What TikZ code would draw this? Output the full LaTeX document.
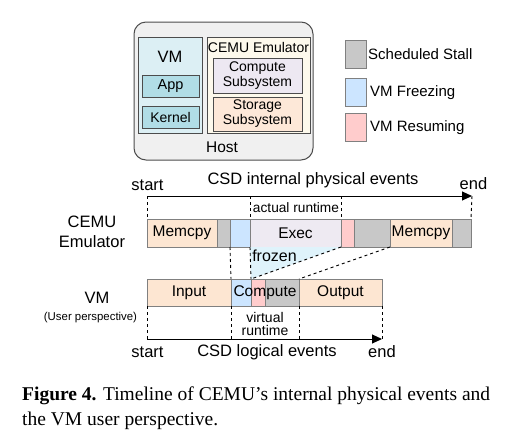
\documentclass[tikz,border=0pt]{standalone}
\usepackage{fontspec}
\setmainfont{Liberation Sans}
\newfontfamily\capfont{Liberation Serif}
\usetikzlibrary{arrows.meta,positioning,calc}
\definecolor{peach}{HTML}{FDE6D2}
\definecolor{stallgray}{HTML}{C8C8C8}
\definecolor{freezeblue}{HTML}{CCE5FF}
\definecolor{resumepink}{HTML}{FFCCCC}
\definecolor{execlav}{HTML}{EEEAF2}
\definecolor{frozencyan}{HTML}{DFF3FB}
\definecolor{hostgray}{HTML}{F0F0F0}
\definecolor{vmcyan}{HTML}{DCEFF4}
\definecolor{appcyan}{HTML}{B1DDE6}
\definecolor{emucream}{HTML}{FDF9EC}
\definecolor{complav}{HTML}{EDE8F2}
\definecolor{storpeach}{HTML}{FDE8D8}
\definecolor{segline}{HTML}{808080}
\tikzset{
	seg/.style={draw=segline, line width=0.9pt, minimum height=28pt, inner sep=0pt, outer sep=0pt, font=\fontsize{15.5}{18}\selectfont},
	hostbox/.style={draw=black!70, line width=1pt, rounded corners=12pt, fill=hostgray, inner sep=0pt},
	inbox/.style={draw=black!70, line width=0.9pt, align=center, inner sep=0pt, outer sep=0pt, font=\fontsize{14}{15}\selectfont},
	keybox/.style={draw=segline, line width=1pt, minimum width=21pt, minimum height=28pt, inner sep=0pt},
	keytext/.style={anchor=west, inner sep=0pt, font=\fontsize{15}{18}\selectfont},
	guide/.style={dash pattern=on 3pt off 3pt, line width=0.9pt},
	timeaxis/.style={-{Triangle[length=10pt,width=9pt]}, line width=1pt},
	bigtext/.style={inner sep=0pt, font=\fontsize{16.5}{20}\selectfont},
	smalltext/.style={inner sep=0pt, align=center, font=\fontsize{14}{13}\selectfont}
}
\begin{document}
\begin{tikzpicture}[x=1pt, y=-1pt]
	\useasboundingbox (0,0) rectangle (531,445);
	% host machine
	\node[hostbox, minimum width=179pt, minimum height=138pt] (host) at (223.5,91) {};
	\node[inbox, fill=vmcyan, minimum width=64pt, minimum height=96pt] (vmbox) at (170,85) {};
	\node[font=\fontsize{16.5}{18}\selectfont, inner sep=0pt] (vmtitle) at (170,57) {VM};
	\node[inbox, fill=appcyan, minimum width=57pt, minimum height=22pt, font=\fontsize{14.5}{15}\selectfont] (app) at (170.5,86) {App};
	\node[inbox, fill=appcyan, minimum width=57pt, minimum height=22pt] (kernel) at (170.5,117) {Kernel};
	\node[inbox, fill=emucream, minimum width=103pt, minimum height=96pt] (emubox) at (258.5,85) {};
	\node[font=\fontsize{14}{15}\selectfont, inner sep=0pt] (emutitle) at (258.5,47) {CEMU Emulator};
	\node[inbox, fill=complav, minimum width=89pt, minimum height=35pt] (compute) at (257.5,75.5) {Compute\\Subsystem};
	\node[inbox, fill=storpeach, minimum width=89pt, minimum height=34pt] (storage) at (257.5,114) {Storage\\Subsystem};
	\node[font=\fontsize{15.5}{18}\selectfont, inner sep=0pt] (hosttitle) at (222,147) {Host};
	% legend
	\node[keybox, fill=stallgray] (keystall) at (355.5,54) {};
	\node[keybox, fill=freezeblue] (keyfreeze) at (355.5,92.5) {};
	\node[keybox, fill=resumepink] (keyresume) at (355.5,127.5) {};
	\node[keytext] at (368,54) {Scheduled Stall};
	\node[keytext] at (370,92.5) {VM Freezing};
	\node[keytext] at (370,127.5) {VM Resuming};
	% row labels
	\node[align=center, inner sep=0pt, font=\fontsize{16.5}{20}\selectfont] (emulbl) at (92,232) {CEMU\\Emulator};
	\node[bigtext] (vmlbl) at (97,298) {VM};
	\node[inner sep=0pt, font=\fontsize{11.4}{13}\selectfont] (userlbl) at (90.5,318) {(User perspective)};
	% emulator timeline
	\node[seg, fill=peach, minimum width=70pt, anchor=west] (e1) at (147,233) {Memcpy};
	\node[seg, fill=stallgray, minimum width=13pt, right=0pt of e1] (e2) {};
	\node[seg, fill=freezeblue, minimum width=20pt, right=0pt of e2] (e3) {};
	\node[seg, fill=execlav, minimum width=91pt, right=0pt of e3] (e4) {Exec};
	\node[seg, fill=resumepink, minimum width=13pt, right=0pt of e4] (e5) {};
	\node[seg, fill=stallgray, minimum width=36pt, right=0pt of e5] (e6) {};
	\node[seg, fill=peach, minimum width=62pt, right=0pt of e6] (e7) {Memcpy};
	\node[seg, fill=stallgray, minimum width=19pt, right=0pt of e7] (e8) {};
	% vm timeline
	\node[seg, fill=peach, minimum width=84pt, minimum height=27pt, anchor=west] (v1) at (147,292.5) {Input};
	\node[seg, fill=freezeblue, minimum width=20pt, minimum height=27pt, right=0pt of v1] (v2) {};
	\node[seg, fill=resumepink, minimum width=14pt, minimum height=27pt, right=0pt of v2] (v3) {};
	\node[seg, fill=stallgray, minimum width=34pt, minimum height=27pt, right=0pt of v3] (v4) {};
	\node[seg, fill=peach, minimum width=83pt, minimum height=27pt, right=0pt of v4] (v5) {Output};
	\node[inner sep=0pt, font=\fontsize{15.5}{18}\selectfont] (vcomptxt) at ($(v2.west)!0.5!(v4.east)$) {Compute};
	% physical axis
	\coordinate (ps) at (147,196);
	\coordinate (pe) at (472,196);
	\draw[timeaxis] (ps) -- (pe);
	\node[bigtext] (pstart) at (147.5,185) {start};
	\node[bigtext] (pend) at (473.5,184) {end};
	\node[bigtext] (ptitle) at (313,180) {CSD internal physical events};
	\draw[guide] (ps) -- (e1.north west);
	\draw[guide] (pe) -- (e8.north east);
	\draw[guide] (ps -| e4.north west) -- (e4.north west);
	\draw[guide] (ps -| e4.north east) -- (e4.north east);
	\node[inner sep=0pt, font=\fontsize{13.7}{15}\selectfont] (actual) at (296,208) {actual runtime};
	% frozen window
	\fill[frozencyan] (e4.south west) -- (e4.south east) -- (v3.north west) -- cycle;
	\draw[guide] (e3.south west) -- (v2.north west);
	\draw[guide] (e4.south west) -- (v3.north west);
	\draw[guide] (e4.south east) -- (v3.north west);
	\draw[guide] (e6.south east) -- (v5.north west);
	\node[inner sep=0pt, font=\fontsize{16}{18}\selectfont] (frozen) at (274.5,256) {frozen};
	% logical axis
	\coordinate (ls) at (147,339);
	\coordinate (le) at (382,339);
	\draw[timeaxis] (ls) -- (le);
	\draw[guide] (v1.south west) -- (ls);
	\draw[guide] (v2.south west) -- (ls -| v2.south west);
	\draw[guide] (v5.south west) -- (ls -| v5.south west);
	\draw[guide] (v5.south east) -- (le);
	\node[smalltext] (virtual) at (265,323.5) {virtual\\runtime};
	\node[bigtext] (lstart) at (147.5,352) {start};
	\node[bigtext] (lend) at (382,352) {end};
	\node[bigtext] (ltitle) at (267,352) {CSD logical events};
	% caption
	\node[anchor=base west, inner sep=0pt, font=\capfont\fontsize{19.5}{25}\selectfont] (cap1) at (22,400.5) {\textbf{Figure 4.} Timeline of CEMU’s internal physical events and};
	\node[anchor=base west, inner sep=0pt, font=\capfont\fontsize{19.5}{25}\selectfont] (cap2) at (22,425) {the VM user perspective.};
\end{tikzpicture}
\end{document}
